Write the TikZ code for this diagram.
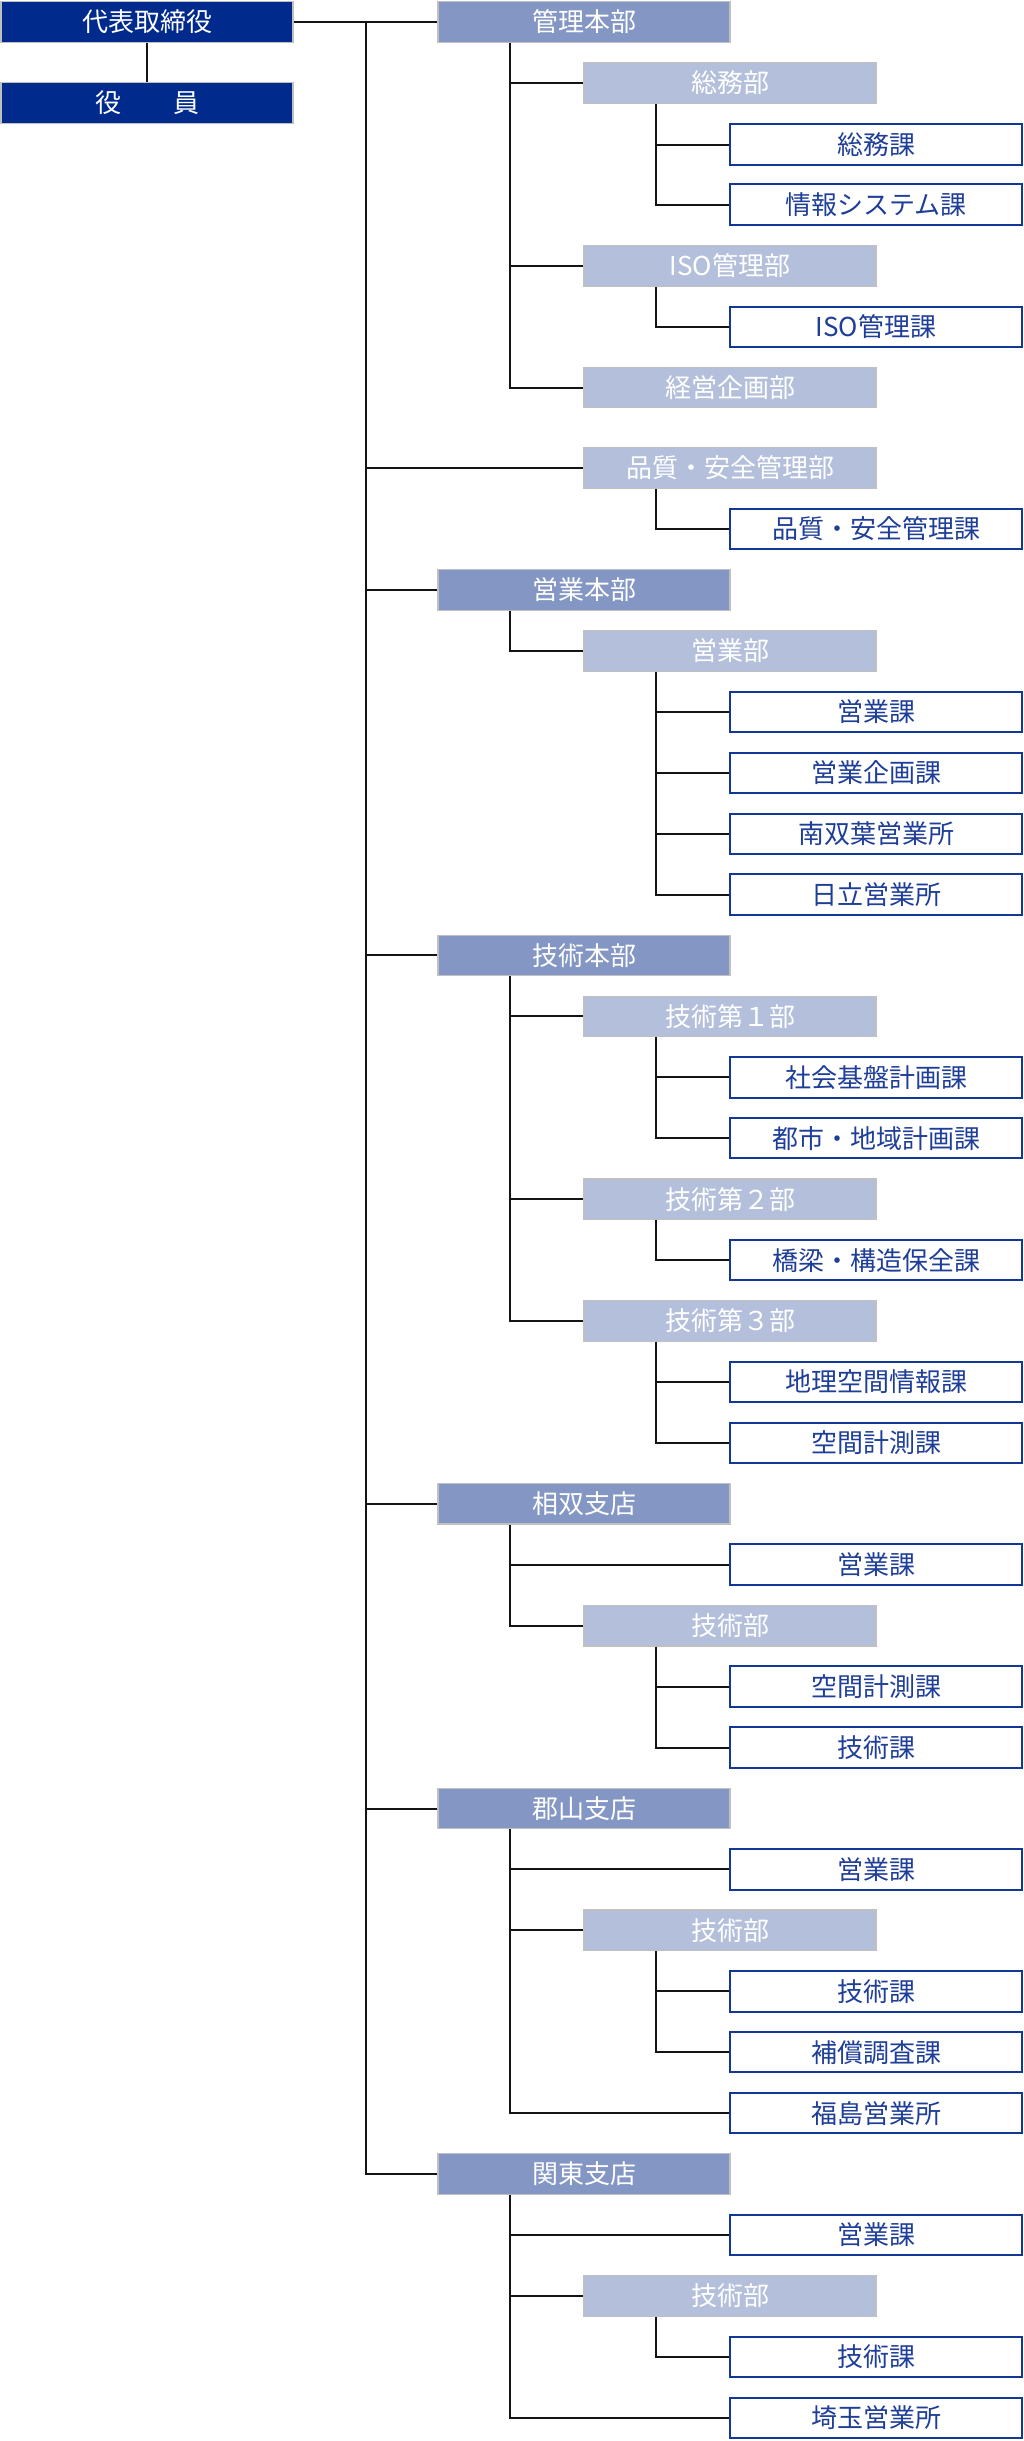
\documentclass[tikz,border=0pt]{standalone}
\usepackage{fontspec}
\newfontfamily\jp{Noto Sans CJK JP}
\usetikzlibrary{calc}
\definecolor{ceoblue}{RGB}{0,42,140}
\definecolor{hqblue}{RGB}{132,151,196}
\definecolor{deptblue}{RGB}{180,192,219}
\definecolor{boxgray}{RGB}{192,192,192}
\definecolor{sectblue}{RGB}{18,56,150}
\definecolor{secttext}{RGB}{30,62,152}
\begin{document}
\begin{tikzpicture}[x=1pt,y=-1pt,
  box/.style={minimum width=292pt, minimum height=40.5pt, inner sep=0pt, font=\jp\fontsize{26}{26}\selectfont},
  ceo/.style={box, fill=ceoblue, draw=boxgray, line width=1.2pt, text=white},
  hq/.style={box, fill=hqblue, draw=boxgray, line width=1.2pt, text=white},
  dept/.style={box, fill=deptblue, draw=boxgray, line width=1.2pt, text=white},
  sect/.style={box, fill=white, draw=sectblue, line width=2pt, text=secttext},
  link/.style={line width=2pt, black!92}]
\useasboundingbox (0,0) rectangle (1024,2441);
% nodes
\node[ceo] (ceo) at (147,22) {代表取締役};
\node[ceo] (yakuin) at (147,103) {役　　員};
\node[hq] (kanri) at (584,22) {管理本部};
\node[dept] (soumubu) at (730,83) {総務部};
\node[sect] (soumuka) at (876,144.5) {総務課};
\node[sect] (joho) at (876,204.5) {情報システム課};
\node[dept] (isobu) at (730,266) {ISO管理部};
\node[sect] (isoka) at (876,327) {ISO管理課};
\node[dept] (keiei) at (730,387.5) {経営企画部};
\node[dept] (hinbu) at (730,468) {品質・安全管理部};
\node[sect] (hinka) at (876,529) {品質・安全管理課};
\node[hq] (eigyohq) at (584,590) {営業本部};
\node[dept] (eigyobu) at (730,651) {営業部};
\node[sect] (eigyoka) at (876,712) {営業課};
\node[sect] (eigyokikaku) at (876,773) {営業企画課};
\node[sect] (minami) at (876,834) {南双葉営業所};
\node[sect] (hitachi) at (876,894.5) {日立営業所};
\node[hq] (gijutsuhq) at (584,955.4) {技術本部};
\node[dept] (g1) at (730,1016.4) {技術第１部};
\node[sect] (shakai) at (876,1077.3) {社会基盤計画課};
\node[sect] (toshi) at (876,1138.2) {都市・地域計画課};
\node[dept] (g2) at (730,1199.2) {技術第２部};
\node[sect] (kyoryo) at (876,1260.1) {橋梁・構造保全課};
\node[dept] (g3) at (730,1321) {技術第３部};
\node[sect] (chiri) at (876,1382) {地理空間情報課};
\node[sect] (kukan) at (876,1442.9) {空間計測課};
\node[hq] (soso) at (584,1503.8) {相双支店};
\node[sect] (sosoe) at (876,1564.7) {営業課};
\node[dept] (sosog) at (730,1625.7) {技術部};
\node[sect] (sosok) at (876,1686.6) {空間計測課};
\node[sect] (sosogk) at (876,1747.5) {技術課};
\node[hq] (kori) at (584,1808.5) {郡山支店};
\node[sect] (korie) at (876,1869.4) {営業課};
\node[dept] (korig) at (730,1930.3) {技術部};
\node[sect] (korigk) at (876,1991.3) {技術課};
\node[sect] (korih) at (876,2052.2) {補償調査課};
\node[sect] (fuku) at (876,2113.1) {福島営業所};
\node[hq] (kanto) at (584,2174) {関東支店};
\node[sect] (kantoe) at (876,2235) {営業課};
\node[dept] (kantog) at (730,2295.9) {技術部};
\node[sect] (kantogk) at (876,2356.8) {技術課};
\node[sect] (saitama) at (876,2417.8) {埼玉営業所};
% connectors
\draw[link] (ceo.south) -- (yakuin.north);
\draw[link] (ceo.east) -- (kanri.west);
\coordinate (mt) at ($(ceo.east)!0.5!(kanri.west)$);
\foreach \c in {hinbu,eigyohq,gijutsuhq,soso,kori,kanto}
  \draw[link] (mt) |- (\c.west);
\foreach \p/\c in {kanri/soumubu,kanri/isobu,kanri/keiei,
  soumubu/soumuka,soumubu/joho,isobu/isoka,hinbu/hinka,
  eigyohq/eigyobu,eigyobu/eigyoka,eigyobu/eigyokikaku,eigyobu/minami,eigyobu/hitachi,
  gijutsuhq/g1,gijutsuhq/g2,gijutsuhq/g3,g1/shakai,g1/toshi,g2/kyoryo,g3/chiri,g3/kukan,
  soso/sosoe,soso/sosog,sosog/sosok,sosog/sosogk,
  kori/korie,kori/korig,kori/fuku,korig/korigk,korig/korih,
  kanto/kantoe,kanto/kantog,kanto/saitama,kantog/kantogk}
  \draw[link] (\p.south west) ++(73,0) |- (\c.west);
\end{tikzpicture}
\end{document}
